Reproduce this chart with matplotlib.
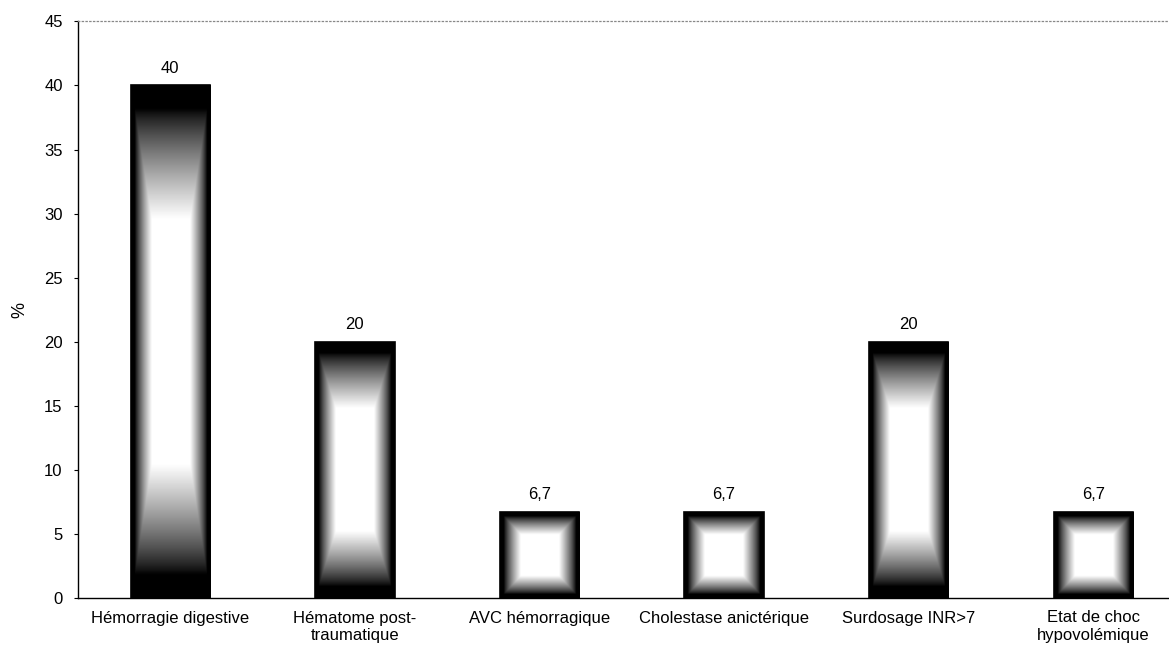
import numpy as np
import matplotlib
matplotlib.use("Agg")
from matplotlib import pyplot as plt

plt.rcParams['font.family'] = ['Liberation Sans', 'DejaVu Sans']

# data
categories = ["Hémorragie digestive", "Hématome post-\ntraumatique", "AVC hémorragique",
              "Cholestase anictérique", "Surdosage INR>7", "Etat de choc\nhypovolémique"]
values = [40, 20, 6.7, 6.7, 20, 6.7]
yticks = [0, 5, 10, 15, 20, 25, 30, 35, 40, 45]

fig = plt.figure(figsize=(11.69, 6.48), dpi=100)
ax = fig.add_axes([78/1169, 50/648, 1107.6/1169, 576.6/648])

x = np.arange(len(values))
bars = ax.bar(x, values, width=0.43, facecolor='none', edgecolor='black', linewidth=1.2, zorder=3)

# "from centre" rectangular gradient: black rim fading to a white core
u = np.linspace(0, 1, 120)
v = np.linspace(0, 1, 300)
U, V = np.meshgrid(u, v)
t = np.maximum(np.abs(2*U - 1), np.abs(2*V - 1))
shade = np.clip((0.91 - t) / 0.43, 0, 1) ** 0.8

for b in bars:
    x0, y0 = b.get_x(), b.get_y()
    w, h = b.get_width(), b.get_height()
    im = ax.imshow(shade, cmap='gray', vmin=0, vmax=1, extent=(x0, x0 + w, y0, y0 + h),
                   aspect='auto', origin='lower', interpolation='bilinear', zorder=2)
    im.set_clip_path(b)

for xi, val in zip(x, values):
    lab = f"{val:g}".replace('.', ',')
    ax.annotate(lab, (xi, val), xytext=(0, 7), textcoords='offset points',
                ha='center', va='bottom', fontsize=12)

ax.set_xlim(-0.5, len(values) - 0.5)
ax.set_ylim(0, 45)
ax.set_yticks(yticks)
ax.set_xticks(x)
ax.set_xticklabels(categories, fontsize=12)
ax.tick_params(axis='x', length=0, pad=9)
ax.tick_params(axis='y', length=3, width=0.8, pad=8, labelsize=12)
ax.set_ylabel('%', fontsize=13, labelpad=11)

ax.spines['right'].set_visible(False)
ax.spines['top'].set_linestyle((0, (1, 2)))
ax.spines['top'].set_color('#888888')
ax.spines['top'].set_linewidth(0.9)
ax.spines['left'].set_linewidth(1)
ax.spines['bottom'].set_linewidth(1)

fig.savefig('out.png', dpi=100)
